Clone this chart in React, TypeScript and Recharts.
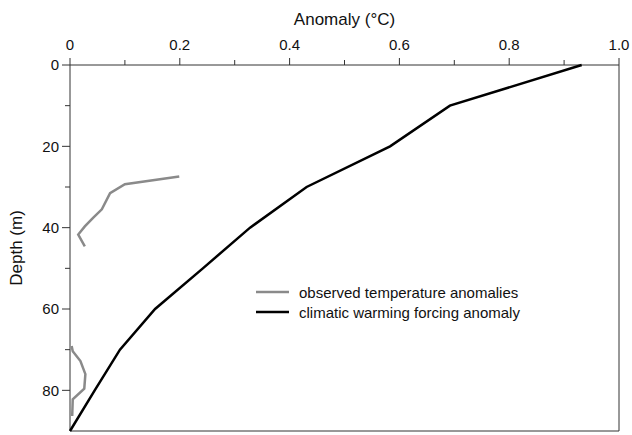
import React from "react";
import {
  ScatterChart,
  Scatter,
  XAxis,
  YAxis,
  ReferenceLine,
  Legend,
} from "recharts";

// climatic warming forcing anomaly (black)
const forcingAnomaly = [0.932, 0.692, 0.583, 0.431, 0.328, 0.242, 0.155, 0.091, 0.045, 0];
const forcingDepth = [0, 10, 20, 30, 40, 50, 60, 70, 80, 90];

// observed temperature anomalies, upper segment (grey)
const obsUpperAnomaly = [0.199, 0.1, 0.073, 0.058, 0.042, 0.027, 0.015, 0.027];
const obsUpperDepth = [27.4, 29.3, 31.5, 35.5, 37.6, 39.7, 41.7, 44.6];

// observed temperature anomalies, lower segment (grey)
const obsLowerAnomaly = [0.003, 0.005, 0.019, 0.028, 0.026, 0.005, 0.004];
const obsLowerDepth = [69.1, 70.4, 72.8, 76.0, 79.6, 82.2, 86.3];

const xTicks = [0, 0.1, 0.2, 0.3, 0.4, 0.5, 0.6, 0.7, 0.8, 0.9, 1.0];
const yTicks = [0, 10, 20, 30, 40, 50, 60, 70, 80];

const zip = (a: number[], d: number[]) => a.map((v, i) => ({ a: v, d: d[i] }));

const forcing = zip(forcingAnomaly, forcingDepth);
const obsUpper = zip(obsUpperAnomaly, obsUpperDepth);
const obsLower = zip(obsLowerAnomaly, obsLowerDepth);

const FONT = "'Liberation Sans', Arial, Helvetica, sans-serif";
const AXIS = "#333";
const GREY = "#8a8a8a";

const XTick = ({ x, y, payload }: any) => {
  const v = payload.value as number;
  const major = Math.round(v * 10) % 2 === 0;
  const axisY = y + 8;
  return (
    <g>
      <line x1={x} x2={x} y1={axisY} y2={axisY - (major ? 7 : 5)} stroke={AXIS} strokeWidth={1} />
      {major && (
        <text x={x} y={axisY - 15} textAnchor="middle" fontSize={15} fill="#111" fontFamily={FONT}>
          {v === 0 ? "0" : v.toFixed(1)}
        </text>
      )}
    </g>
  );
};

const YTick = ({ x, y, payload }: any) => {
  const v = payload.value as number;
  const major = v % 20 === 0;
  const axisX = x + 8;
  return (
    <g>
      <line x1={axisX} x2={axisX - (major ? 8 : 5)} y1={y} y2={y} stroke={AXIS} strokeWidth={1} />
      {major && (
        <text x={axisX - 11} y={y} dy="0.36em" textAnchor="end" fontSize={15} fill="#111" fontFamily={FONT}>
          {v}
        </text>
      )}
    </g>
  );
};

const XTitle = ({ viewBox }: any) => (
  <text
    x={viewBox.x + viewBox.width / 2}
    y={25}
    textAnchor="middle"
    fontSize={17}
    fill="#111"
    fontFamily={FONT}
  >
    Anomaly (°C)
  </text>
);

const YTitle = ({ viewBox }: any) => {
  const cy = viewBox.y + viewBox.height / 2;
  return (
    <text
      x={22}
      y={cy}
      transform={`rotate(-90 22 ${cy})`}
      textAnchor="middle"
      fontSize={17}
      fill="#111"
      fontFamily={FONT}
    >
      Depth (m)
    </text>
  );
};

const LegendBox = () => {
  const rows = [
    { label: "observed temperature anomalies", color: GREY },
    { label: "climatic warming forcing anomaly", color: "#000" },
  ];
  return (
    <div style={{ fontFamily: FONT, fontSize: 15, color: "#111" }}>
      {rows.map((r) => (
        <div key={r.label} style={{ display: "flex", alignItems: "center", height: 20, whiteSpace: "nowrap" }}>
          <svg width={33} height={4} style={{ marginRight: 10 }}>
            <line x1={0} x2={33} y1={2} y2={2} stroke={r.color} strokeWidth={2.5} />
          </svg>
          <span>{r.label}</span>
        </div>
      ))}
    </div>
  );
};

const noDot = () => <g />;

export default function App() {
  return (
    <div style={{ position: "absolute", left: 0, top: 0, width: 632, height: 435, background: "#fff" }}>
      <ScatterChart width={632} height={435} margin={{ top: 0, right: 13, bottom: 4, left: 0 }}>
        <XAxis
          type="number"
          dataKey="a"
          orientation="top"
          domain={[0, 1]}
          ticks={xTicks}
          height={65}
          tickSize={8}
          tickMargin={0}
          tickLine={false}
          tick={<XTick />}
          axisLine={{ stroke: AXIS, strokeWidth: 1 }}
          label={<XTitle />}
          interval={0}
        />
        <YAxis
          type="number"
          dataKey="d"
          reversed
          domain={[0, 90]}
          ticks={yTicks}
          width={70}
          tickSize={8}
          tickMargin={0}
          tickLine={false}
          tick={<YTick />}
          axisLine={{ stroke: AXIS, strokeWidth: 1 }}
          label={<YTitle />}
          interval={0}
        />
        <ReferenceLine x={1} stroke={AXIS} strokeWidth={1} />
        <ReferenceLine y={90} stroke={AXIS} strokeWidth={1} />
        <Scatter
          name="climatic warming forcing anomaly"
          data={forcing}
          line={{ stroke: "#000", strokeWidth: 2.5 }}
          lineJointType="linear"
          shape={noDot}
          isAnimationActive={false}
        />
        <Scatter
          name="observed temperature anomalies"
          data={obsUpper}
          line={{ stroke: GREY, strokeWidth: 2.5 }}
          lineJointType="linear"
          shape={noDot}
          isAnimationActive={false}
        />
        <Scatter
          name="observed lower"
          data={obsLower}
          line={{ stroke: GREY, strokeWidth: 2.5 }}
          lineJointType="linear"
          shape={noDot}
          legendType="none"
          isAnimationActive={false}
        />
        <Legend
          layout="vertical"
          align="center"
          verticalAlign="middle"
          content={<LegendBox />}
          wrapperStyle={{ left: 256, top: 282, width: "auto" }}
        />
      </ScatterChart>
    </div>
  );
}
